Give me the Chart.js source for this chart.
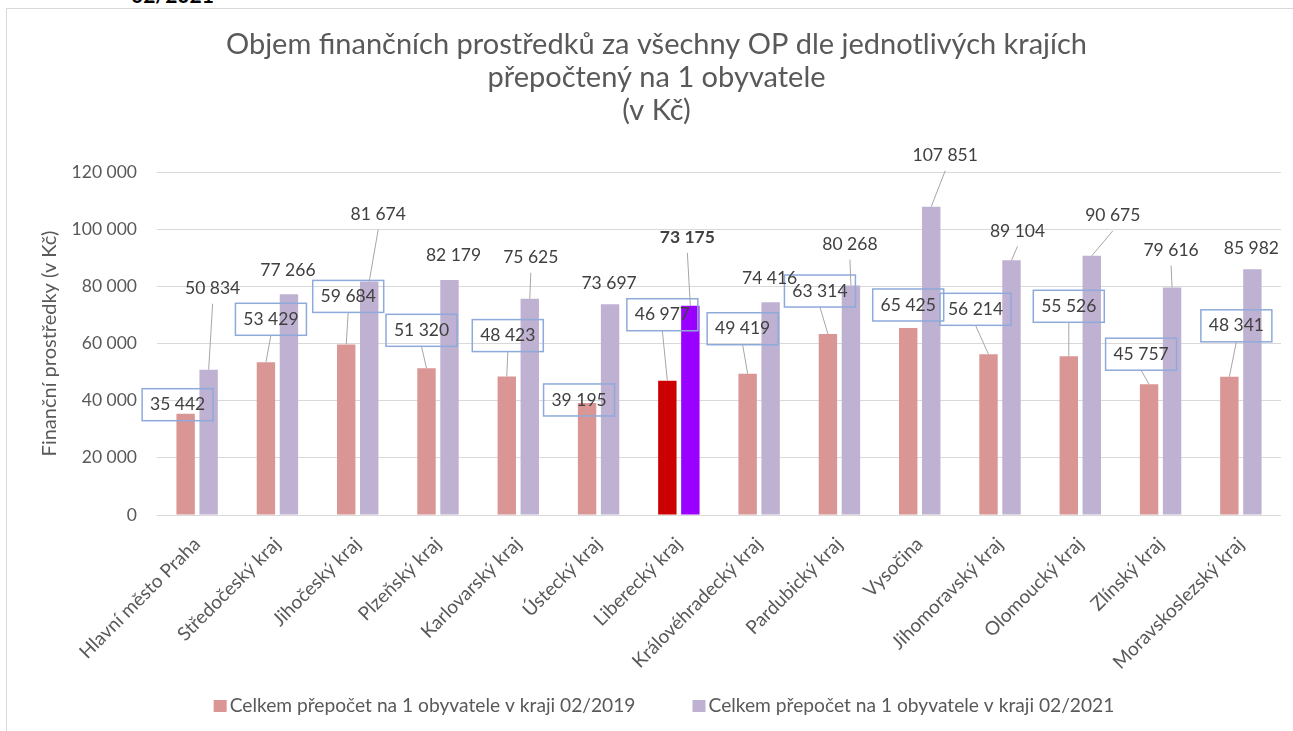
<!DOCTYPE html>
<html>
<head>
<meta charset="utf-8">
<script src="https://cdn.jsdelivr.net/npm/chart.js@4/dist/chart.umd.min.js"></script>
<style>
  body { margin: 0; background: #fff; overflow: hidden; font-family: Lato, sans-serif; }
  #wrap { position: relative; width: 1293px; height: 731px; overflow: hidden; }
  #frame { position: absolute; left: 6px; top: 8px; width: 1400px; height: 800px; border: 1px solid #d9d9d9; }
  #cut { position: absolute; left: 131px; top: -16px; font: bold 21px Lato, sans-serif; color: #000; line-height: 21px; }
  canvas { position: absolute; left: 0; top: 0; }
</style>
</head>
<body>
<div id="wrap">
  <div id="frame"></div>
  <div id="cut">02/2021</div>
  <canvas id="myChart"></canvas>
</div>
<script>
const regions = ['Hlavní město Praha', 'Středočeský kraj', 'Jihočeský kraj', 'Plzeňský kraj',
  'Karlovarský kraj', 'Ústecký kraj', 'Liberecký kraj', 'Královéhradecký kraj', 'Pardubický kraj',
  'Vysočina', 'Jihomoravský kraj', 'Olomoucký kraj', 'Zlínský kraj', 'Moravskoslezský kraj'];

const values2019 = [35442, 53429, 59684, 51320, 48423, 39195, 46977, 49419, 63314, 65425, 56214, 55526, 45757, 48341];
const values2021 = [50834, 77266, 81674, 82179, 75625, 73697, 73175, 74416, 80268, 107851, 89104, 90675, 79616, 85982];

const yTicks = [0, 20000, 40000, 60000, 80000, 100000, 120000];

const highlighted = 6; // Liberecký kraj

// label placement relative to the top of each bar (dx, dy in px)
const shift2019 = [[-8, -9], [5, -43], [2, -48], [-5, -38], [1, -41], [-8, -3], [-5, -66],
  [-5, -45], [-8, -43], [0, -23], [-13, -45], [0, -50], [-8, -30], [7, -51]];
const shift2021 = [[4, -81], [-1, -24], [9, -67], [4, -25], [1, -41], [-1, -21], [-3, -68],
  [-1, -24], [-1, -41], [14, -51], [6, -29], [21, -40], [-1, -37], [-1, -21]];

const colors = {
  pink: '#DA9694',
  lilac: '#BFB1D1',
  red: '#CC0000',
  violet: '#9900FF',
  grid: '#D9D9D9',
  text: '#595959',
  label: '#404040',
  box: '#8EAADB',
  leader: '#A6A6A6'
};

const fmt = v => String(v).replace(/\B(?=(\d{3})+(?!\d))/g, ' ');

const valueLabels = {
  id: 'valueLabels',
  afterDatasetsDraw(chart) {
    const ctx = chart.ctx;
    ctx.save();
    chart.data.datasets.forEach((ds, di) => {
      const meta = chart.getDatasetMeta(di);
      const shifts = di === 0 ? shift2019 : shift2021;
      meta.data.forEach((bar, i) => {
        const lx = bar.x + shifts[i][0];
        const ly = bar.y + shifts[i][1];
        const boxed = di === 0;
        // leader line
        if (Math.hypot(shifts[i][0], shifts[i][1]) > 28) {
          ctx.strokeStyle = colors.leader;
          ctx.lineWidth = 1;
          ctx.beginPath();
          ctx.moveTo(lx, ly + (boxed ? 16 : 15));
          ctx.lineTo(bar.x, bar.y);
          ctx.stroke();
        }
        if (boxed) {
          ctx.strokeStyle = colors.box;
          ctx.lineWidth = 1.5;
          ctx.strokeRect(lx - 35.5, ly - 16, 71, 32);
        }
        const bold = di === 1 && i === highlighted;
        ctx.font = (bold ? 'bold ' : '') + '17.5px Lato';
        ctx.fillStyle = colors.label;
        ctx.textAlign = 'center';
        ctx.textBaseline = 'middle';
        ctx.fillText(fmt(ds.data[i]), lx, ly);
      });
    });
    ctx.restore();
  }
};

const bottomLegend = {
  id: 'bottomLegend',
  afterDraw(chart) {
    const ctx = chart.ctx;
    ctx.save();
    ctx.font = '19.2px Lato';
    const items = chart.data.datasets.map(ds => ({ text: ds.label, color: ds.legendColor, w: ctx.measureText(ds.label).width }));
    const box = 13, gap = 3, spacing = 57;
    const total = items.reduce((s, it) => s + box + gap + it.w, 0) + spacing * (items.length - 1);
    let x = 664 - total / 2;
    const y = 706;
    items.forEach(it => {
      ctx.fillStyle = it.color;
      ctx.fillRect(x, y - 6, box, 12);
      x += box + gap;
      ctx.fillStyle = colors.text;
      ctx.textAlign = 'left';
      ctx.textBaseline = 'middle';
      ctx.fillText(it.text, x, y);
      x += it.w + spacing;
    });
    ctx.restore();
  }
};

Chart.defaults.font.family = 'Lato';
Chart.defaults.color = colors.text;

const myChart = document.getElementById('myChart').getContext('2d');

const barChart = new Chart(myChart, {
  type: 'bar',
  data: {
    labels: regions,
    datasets: [{
      label: 'Celkem přepočet na 1 obyvatele v kraji 02/2019',
      data: values2019,
      backgroundColor: values2019.map((v, i) => i === highlighted ? colors.red : colors.pink),
      legendColor: colors.pink
    }, {
      label: 'Celkem přepočet na 1 obyvatele v kraji 02/2021',
      data: values2021,
      backgroundColor: values2021.map((v, i) => i === highlighted ? colors.violet : colors.lilac),
      legendColor: colors.lilac
    }]
  },
  options: {
    responsive: true,
    maintainAspectRatio: false,
    animation: false,
    categoryPercentage: 0.573,
    barPercentage: 0.8,
    layout: { padding: { left: 32, right: 12, top: 0, bottom: 0 } },
    plugins: {
      legend: { display: false },
      tooltip: { enabled: false },
      title: {
        display: true,
        text: ['Objem finančních prostředků za všechny OP dle jednotlivých krajích', 'přepočtený na 1 obyvatele', '(v Kč)'],
        color: colors.text,
        font: { size: 29, weight: 'normal', lineHeight: 33 / 29 },
        padding: { top: 28.5, bottom: 44.5 }
      }
    },
    scales: {
      x: {
        grid: { display: false },
        border: { display: false },
        ticks: {
          autoSkip: false,
          minRotation: 45,
          maxRotation: 45,
          padding: 10,
          color: colors.text,
          font: { size: 19 }
        },
        afterFit: scale => { scale.height = 216; }
      },
      y: {
        min: 0,
        max: 120000,
        afterBuildTicks: scale => { scale.ticks = yTicks.map(v => ({ value: v })); },
        grid: { color: colors.grid, drawTicks: false },
        border: { display: false },
        ticks: {
          padding: 20,
          color: colors.text,
          font: { size: 17.5 },
          callback: value => fmt(value)
        },
        title: {
          display: true,
          text: 'Finanční prostředky (v Kč)',
          color: colors.text,
          font: { size: 20 },
          padding: { top: 6, bottom: 0 }
        },
        afterFit: scale => { scale.width = 125; }
      }
    }
  },
  plugins: [valueLabels, bottomLegend]
});
</script>
</body>
</html>
